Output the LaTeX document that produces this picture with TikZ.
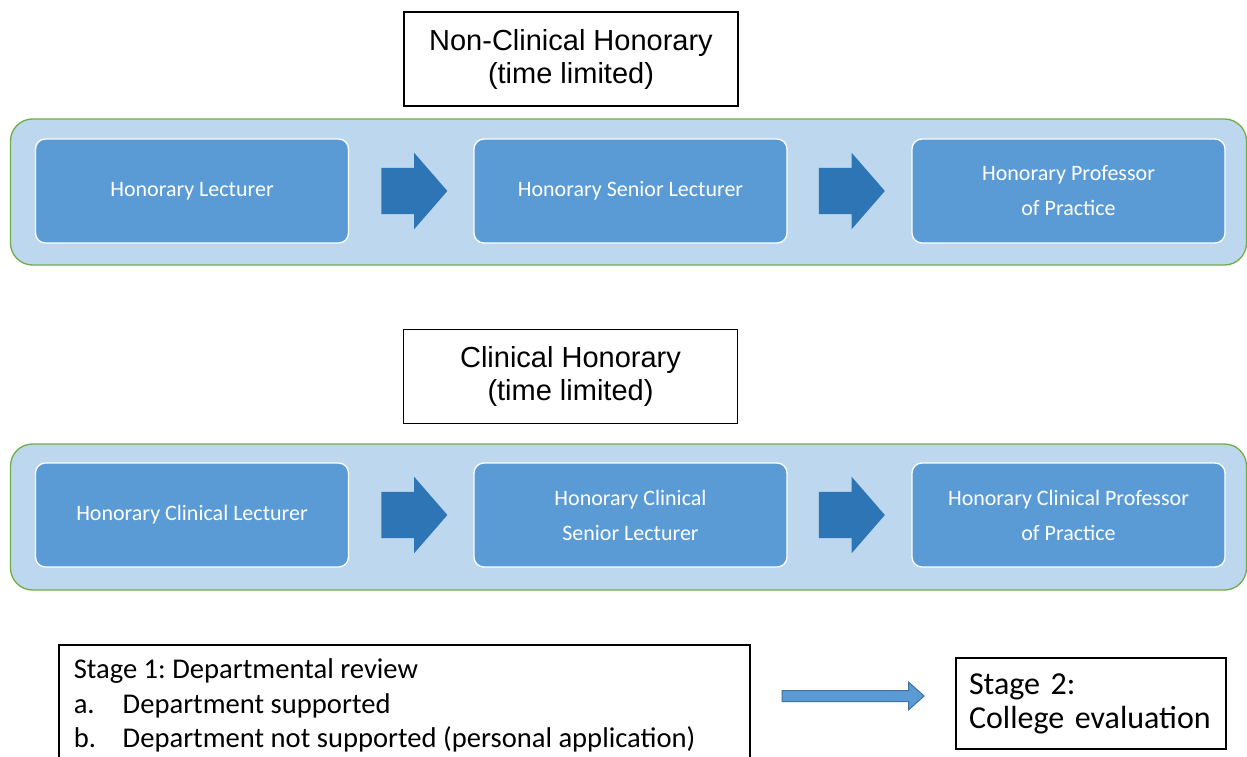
\documentclass[tikz,border=0pt]{standalone}
\usepackage{fontspec}
\setmainfont{Carlito}
\newfontfamily\arialfont{Liberation Sans}
\usepackage{tikz}
\usetikzlibrary{shapes.geometric, shapes.arrows, arrows}
\usetikzlibrary{positioning}
\definecolor{bandblue}{HTML}{BDD7EE}
\definecolor{bandgreen}{HTML}{70AD47}
\definecolor{boxblue}{HTML}{5B9BD5}
\definecolor{arrowblue}{HTML}{2E75B6}
\definecolor{edgeblue}{HTML}{41719C}
\frenchspacing
\tikzstyle{band} = [rectangle, rounded corners=22pt, minimum width=1236pt, minimum height=146pt, fill=bandblue, draw=bandgreen, line width=1.3pt]
\tikzstyle{rolebox} = [rectangle, rounded corners=10pt, minimum width=313pt, minimum height=104pt, fill=boxblue, draw=white, line width=1.3pt, text=white, align=center, font=\fontsize{22}{35}\selectfont]
\tikzstyle{titlebox} = [rectangle, minimum width=334pt, minimum height=94pt, draw=black, line width=1.3pt, align=center, font=\arialfont\fontsize{29}{33}\selectfont]
\tikzstyle{stepArrow} = [single arrow, fill=arrowblue, inner sep=0pt, text height=46pt, text depth=0pt, minimum width=76pt, minimum height=66pt, single arrow head extend=15pt, single arrow tip angle=98]
\tikzstyle{stageArrow} = [single arrow, fill=boxblue, draw=edgeblue, line width=1pt, inner sep=0pt, text height=10pt, text depth=0pt, minimum width=27pt, minimum height=142pt, single arrow head extend=8.5pt, single arrow tip angle=84]
\tikzstyle{stagebox} = [rectangle, draw=black, line width=1.5pt, align=left]

\begin{document}
\begin{tikzpicture}[x=1pt, y=-1pt]
    \useasboundingbox (0,0) rectangle (1247,757);
    \clip (0,0) rectangle (1247,757);
    \node (nonclinTitle) [titlebox] at (571,59) {Non-Clinical Honorary\\(time limited)};
    \node (nonclin) [band] at (628.5,192) {};
    \node (lect) [rolebox] at (192,191) {Honorary Lecturer};
    \node (step1) [stepArrow, right=32pt of lect] {};
    \node (senior) [rolebox] at (630.5,191) {Honorary Senior Lecturer};
    \node (step2) [stepArrow, right=31pt of senior] {};
    \node (prof) [rolebox] at (1068.5,191) {Honorary Professor\\of Practice};

    \node (clinTitle) [titlebox] at (570.5,376.5) {Clinical Honorary\\(time limited)};
    \node (clin) [band] at (628.5,517) {};
    \node (clinLect) [rolebox] at (192,515) {Honorary Clinical Lecturer};
    \node (step3) [stepArrow, right=32pt of clinLect] {};
    \node (clinSenior) [rolebox] at (630.5,515) {Honorary Clinical\\Senior Lecturer};
    \node (step4) [stepArrow, right=31pt of clinSenior] {};
    \node (clinProf) [rolebox] at (1068.5,515) {Honorary Clinical Professor\\of Practice};

    \node (review) [stagebox, anchor=north west, inner xsep=15pt, inner ysep=14pt, font=\fontsize{28.6}{34.5}\selectfont] at (58,644) {\parbox[t][110pt][t]{661pt}{Stage 1: Departmental review\\\makebox[49pt][l]{a.}Department supported\\\makebox[49pt][l]{b.}Department not supported (personal application)}};
    \node (toCollege) [stageArrow] at (850,696) {};
    \node (college) [stagebox, minimum width=270pt, minimum height=91pt, text width=244pt, inner xsep=13pt, font=\fontsize{32}{36}\selectfont] at (1091,703.5) {\raisebox{-2pt}{Stage 2:}\\College evaluation};
\end{tikzpicture}
\end{document}
